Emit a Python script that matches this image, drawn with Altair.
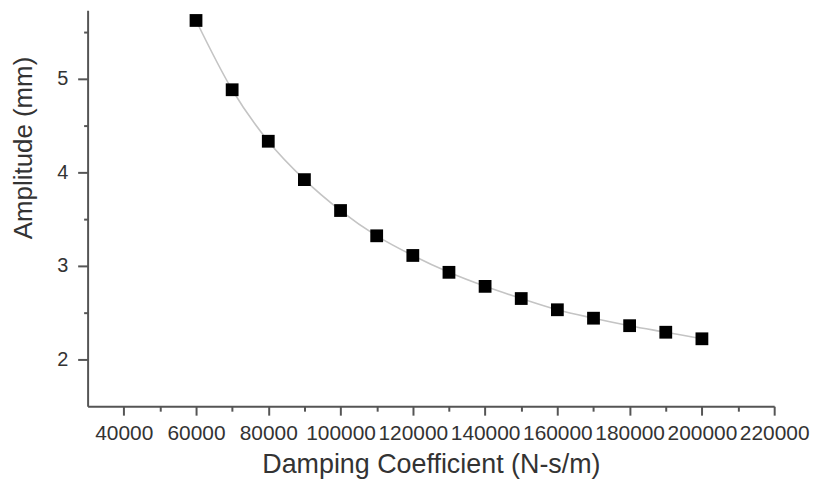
import altair as alt
import pandas as pd

# Data
damping = [60000, 70000, 80000, 90000, 100000, 110000, 120000, 130000,
           140000, 150000, 160000, 170000, 180000, 190000, 200000]
amplitude = [5.62, 4.88, 4.33, 3.92, 3.59, 3.32, 3.11, 2.93,
             2.78, 2.65, 2.53, 2.44, 2.36, 2.29, 2.22]

x_major = [40000, 60000, 80000, 100000, 120000, 140000, 160000, 180000, 200000, 220000]
x_minor = [50000, 70000, 90000, 110000, 130000, 150000, 170000, 190000, 210000]
y_major = [2, 3, 4, 5]
y_minor = [2.5, 3.5, 4.5, 5.5]

df = pd.DataFrame({"x": damping, "y": amplitude})

FONT = "Liberation Sans"
AX = "#555555"
TXT = "#333333"

xscale = alt.Scale(domain=[30000, 220000], nice=False, zero=False)
yscale = alt.Scale(domain=[1.5, 5.73], nice=False, zero=False)

x_axis_major = alt.Axis(
    values=x_major, orient="bottom", format="d", title="Damping Coefficient (N-s/m)",
    grid=False, domain=True, domainColor=AX, domainWidth=2, tickColor=AX, tickWidth=2,
    tickSize=9, labelPadding=7, labelFontSize=21, labelFont=FONT, labelColor=TXT,
    labelOverlap=False, labelFlush=False, titleFont=FONT, titleFontSize=27,
    titleFontWeight="normal", titleColor=TXT, titlePadding=9,
)
y_axis_major = alt.Axis(
    values=y_major, orient="left", format="d", title="Amplitude (mm)",
    grid=False, domain=True, domainColor=AX, domainWidth=2, tickColor=AX, tickWidth=2,
    tickSize=10, labelPadding=10, labelFontSize=20, labelFont=FONT, labelColor=TXT,
    labelOverlap=False, labelFlush=False, titleFont=FONT, titleFontSize=26,
    titleFontWeight="normal", titleColor=TXT, titlePadding=20, titleY=138,
)
x_axis_minor = alt.Axis(
    values=x_minor, orient="bottom", title=None, labels=False, grid=False, domain=False,
    tickColor=AX, tickWidth=2, tickSize=5,
)
y_axis_minor = alt.Axis(
    values=y_minor, orient="left", title=None, labels=False, grid=False, domain=False,
    tickColor=AX, tickWidth=2, tickSize=4,
)

base = alt.Chart(df)
line = base.mark_line(color="#c4c4c4", strokeWidth=1.6, interpolate="monotone").encode(
    x=alt.X("x:Q", scale=xscale, axis=x_axis_major),
    y=alt.Y("y:Q", scale=yscale, axis=y_axis_major),
)
points = base.mark_square(size=165, color="#000000", opacity=1).encode(
    x=alt.X("x:Q", scale=xscale, axis=x_axis_minor),
    y=alt.Y("y:Q", scale=yscale, axis=y_axis_minor),
)

chart = (
    alt.layer(line, points)
    .resolve_axis(x="independent", y="independent")
    .properties(
        width=690, height=398,
        autosize=alt.AutoSizeParams(type="none"),
        padding={"left": 80, "top": 1, "right": 37, "bottom": 76},
        background="white",
    )
    .configure_view(stroke=None)
)

chart.save("out.html", embed_options={"renderer": "svg", "actions": False})
